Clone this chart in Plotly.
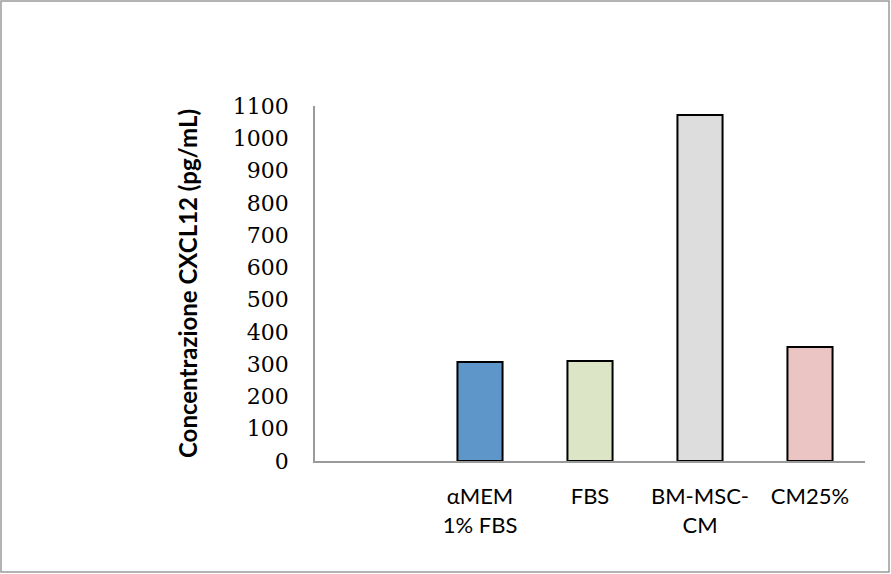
import plotly.graph_objects as go

# CXCL12 concentration by culture condition
categories = [" ", "αMEM<br>1% FBS", "FBS", "BM-MSC-<br>CM", "CM25%"]
values = [None, 307, 310, 1072, 353]
colors = ["#ffffff", "#5F96C9", "#DDE5C7", "#DDDDDD", "#EBC5C4"]
y_ticks = list(range(0, 1101, 100))

W, H = 891, 574
L, R, T, B = 315, 26, 106, 113
pw, ph = W - L - R, H - T - B

fig = go.Figure(
    go.Bar(
        x=categories,
        y=values,
        marker=dict(color=colors, line=dict(color="#000000", width=2)),
        width=0.41,
        hoverinfo="x+y",
    )
)

fig.update_layout(
    width=W,
    height=H,
    margin=dict(l=L, r=R, t=T, b=B),
    paper_bgcolor="#ffffff",
    plot_bgcolor="#ffffff",
    showlegend=False,
    xaxis=dict(
        type="category",
        showline=True,
        linecolor="#9a9a9a",
        linewidth=1.5,
        showgrid=False,
        ticks="",
        ticklabelstandoff=15,
        tickfont=dict(family="Lato, Liberation Sans, sans-serif", size=22, color="#000000"),
    ),
    yaxis=dict(
        range=[0, 1100],
        tickvals=y_ticks,
        showline=True,
        linecolor="#9a9a9a",
        linewidth=1.5,
        showgrid=False,
        zeroline=False,
        ticks="",
        ticklabelstandoff=20,
        tickfont=dict(family="DejaVu Serif, Liberation Serif, serif", size=22, color="#000000"),
        title=dict(
            text="<b>Concentrazione CXCL12 (pg/mL)</b>",
            font=dict(family="Lato, Liberation Sans, sans-serif", size=24, color="#000000"),
            standoff=28,
        ),
    ),
    shapes=[
        dict(
            type="rect",
            xref="paper",
            yref="paper",
            x0=(1 - L) / pw,
            x1=(W - 2 - L) / pw,
            y0=-(H - 2 - (H - B)) / ph,
            y1=(H - B - 1) / ph,
            line=dict(color="#9a9a9a", width=1.5),
            fillcolor="rgba(0,0,0,0)",
            layer="below",
        )
    ],
)

fig.write_html("out.html")
